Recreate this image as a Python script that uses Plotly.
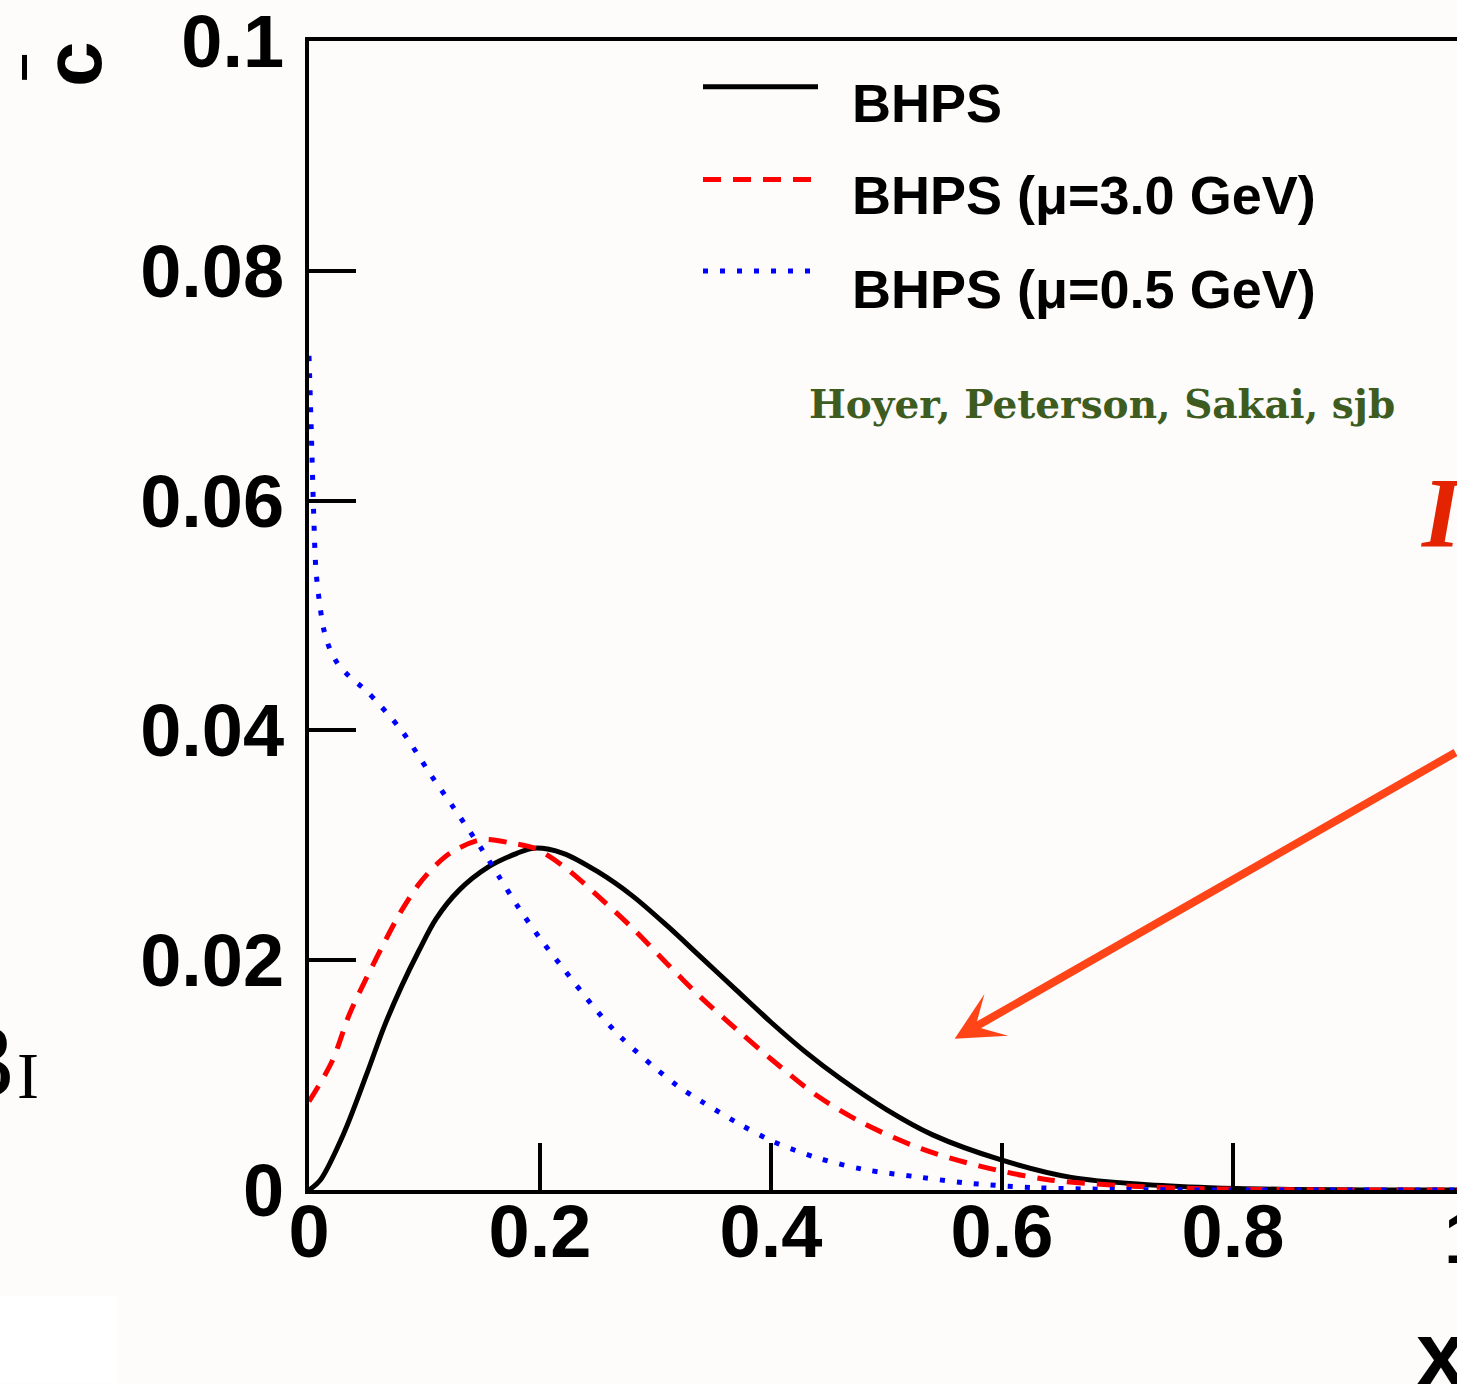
import plotly.graph_objects as go

# ---------------- data ----------------
x_bhps = [0, 0.01, 0.03, 0.05, 0.065, 0.08, 0.095, 0.11, 0.13, 0.155, 0.18, 0.195,
          0.22, 0.25, 0.28, 0.31, 0.34, 0.37, 0.40, 0.43, 0.46, 0.50, 0.54, 0.60,
          0.66, 0.72, 0.78, 0.85, 0.92, 1.0]
y_bhps = [0, 0.0009, 0.0049, 0.0101, 0.0142, 0.0177, 0.0208, 0.0236, 0.0261, 0.0281,
          0.0293, 0.02975, 0.0293, 0.0277, 0.0256, 0.0230, 0.0202, 0.0174, 0.0146,
          0.0120, 0.0097, 0.0070, 0.0048, 0.0026, 0.0011, 0.0005, 0.0002, 0.00005, 0.0, 0.0]

x_mu30 = [0, 0.02, 0.035, 0.05, 0.065, 0.08, 0.095, 0.11, 0.125, 0.15, 0.175, 0.195,
          0.22, 0.25, 0.28, 0.31, 0.34, 0.37, 0.40, 0.44, 0.48, 0.53, 0.58, 0.64,
          0.70, 0.76, 0.82, 0.90, 1.0]
y_mu30 = [0.0077, 0.0112, 0.0153, 0.0185, 0.0215, 0.0243, 0.0266, 0.0283, 0.0295,
          0.0305, 0.0302, 0.02975, 0.0282, 0.0256, 0.0228, 0.0197, 0.0167, 0.0140,
          0.0114, 0.0082, 0.0058, 0.0036, 0.0021, 0.0009, 0.0004, 0.00015, 0.00005, 0, 0]

x_mu05 = [0, 0.002, 0.004, 0.006, 0.009, 0.013, 0.018, 0.025, 0.035, 0.05, 0.08, 0.105,
          0.125, 0.15, 0.165, 0.18, 0.20, 0.22, 0.25, 0.27, 0.30, 0.32, 0.34, 0.37,
          0.40, 0.44, 0.48, 0.53, 0.57, 0.63, 0.70, 0.80, 1.0]
y_mu05 = [0.0726, 0.066, 0.059, 0.054, 0.0512, 0.0487, 0.0471, 0.0458, 0.0447, 0.0434,
          0.0400, 0.0362, 0.0333, 0.0296, 0.0272, 0.0248, 0.0219, 0.0193, 0.0155,
          0.0133, 0.0106, 0.0090, 0.0077, 0.0059, 0.0043, 0.0028, 0.0018, 0.0011,
          0.0006, 0.0002, 0.00005, 0, 0]

series_names = ["BHPS", "BHPS (\u03bc=3.0 GeV)", "BHPS (\u03bc=0.5 GeV)"]
x_tickvals = [0, 0.2, 0.4, 0.6, 0.8]
x_ticktext = ["0", "0.2", "0.4", "0.6", "0.8"]
y_tickvals = [0, 0.02, 0.04, 0.06, 0.08, 0.1]
y_ticktext = ["0", "0.02", "0.04", "0.06", "0.08", "0.1"]

# ---------------- figure ----------------
W, H = 1457, 1384
L, R, T, B = 309, 0, 36, 194
BG = "#fdfcfa"

fig = go.Figure()
styles = [
    dict(color="black", width=5, dash="solid"),
    dict(color="#ff0000", width=5, dash="18px,12px"),
    dict(color="#0000ff", width=5, dash="5px,12px"),
]
for xs, ys, name, st in zip([x_bhps, x_mu30, x_mu05], [y_bhps, y_mu30, y_mu05],
                            series_names, styles):
    fig.add_trace(go.Scatter(x=xs, y=ys, mode="lines", name=name,
                             line=dict(shape="spline", smoothing=0.9, **st),
                             showlegend=False))

tickfont = dict(family="Liberation Sans, Arial, sans-serif", size=74, color="black",
                weight="bold")

fig.update_xaxes(range=[0, (W - L - R) / 1155], tickvals=x_tickvals, ticktext=x_ticktext,
                 ticks="inside", ticklen=47, tickwidth=4, tickcolor="black",
                 showline=True, linewidth=4, linecolor="black", mirror=True,
                 showgrid=False, zeroline=False, tickfont=tickfont,
                 ticklabelstandoff=-26, ticklabeloverflow="allow")
fig.update_yaxes(range=[0, 0.1000001], tickvals=y_tickvals, ticktext=y_ticktext,
                 ticks="inside", ticklen=47, tickwidth=4, tickcolor="black",
                 showline=True, linewidth=4, linecolor="black", mirror=False,
                 showgrid=False, zeroline=False, tickfont=tickfont,
                 ticklabelstandoff=6, ticklabeloverflow="allow")

pw, ph = W - L - R, H - T - B


def px(x):
    return (x - L) / pw


def py(y):
    return (H - B - y) / ph


shapes = []
# legend samples
shapes.append(dict(type="line", xref="paper", yref="paper", x0=px(703), x1=px(818),
                   y0=py(82), y1=py(82), line=dict(color="black", width=5)))
shapes.append(dict(type="line", xref="paper", yref="paper", x0=px(703), x1=px(818),
                   y0=py(175), y1=py(175),
                   line=dict(color="#ff0000", width=5, dash="18px,12px")))
shapes.append(dict(type="line", xref="paper", yref="paper", x0=px(703), x1=px(814),
                   y0=py(267), y1=py(267),
                   line=dict(color="#0000ff", width=5, dash="5px,12px")))
# white patch bottom-left and small bar top-left
shapes.append(dict(type="rect", xref="paper", yref="paper", x0=px(0), x1=px(118),
                   y0=py(1384), y1=py(1297), fillcolor="white", line=dict(width=0),
                   layer="below"))
shapes.append(dict(type="rect", xref="paper", yref="paper", x0=px(22), x1=px(27),
                   y0=py(75), y1=py(50), fillcolor="black", line=dict(width=0)))

ann = []
leg_font = dict(family="Liberation Sans, Arial, sans-serif", size=54, color="black",
                weight="bold")
for name, yc in zip(series_names, [98, 191, 285]):
    ann.append(dict(text=name, xref="paper", yref="paper", x=px(850), y=py(yc),
                    xanchor="left", yanchor="middle", showarrow=False, font=leg_font))
ann.append(dict(text="Hoyer, Peterson, Sakai, sjb", xref="paper", yref="paper",
                x=px(807), y=py(401), xanchor="left", yanchor="middle", showarrow=False,
                font=dict(family="DejaVu Serif, serif", size=39, color="#3e5c1f",
                          weight="bold")))
# arrow
ann.append(dict(text="", x=0.559, y=0.01317, xref="x", yref="y", showarrow=True,
                ax=525, ay=-287, arrowhead=3, arrowsize=1.0, arrowwidth=8,
                arrowcolor="#ff4418", standoff=0))
# cut-off slide texts
ann.append(dict(text="I", xref="paper", yref="paper", x=px(1419), y=py(510),
                xanchor="left", yanchor="middle", showarrow=False,
                font=dict(family="Liberation Serif, serif", size=100, color="#e42400",
                          weight="bold", style="italic")))
ann.append(dict(text="x", xref="paper", yref="paper", x=px(1414), y=py(1355),
                xanchor="left", yanchor="middle", showarrow=False,
                font=dict(family="Liberation Sans, Arial, sans-serif", size=90,
                          color="black", weight="bold")))
ann.append(dict(text="1", xref="paper", yref="paper", x=px(1464), y=py(1238),
                xanchor="center", yanchor="middle", showarrow=False, font=tickfont))
ann.append(dict(text="c", xref="paper", yref="paper", x=px(73), y=py(59),
                xanchor="center", yanchor="middle", showarrow=False, textangle=-90,
                font=dict(family="Liberation Sans, Arial, sans-serif", size=82,
                          color="black", weight="bold")))
ann.append(dict(text="3", xref="paper", yref="paper", x=px(16), y=py(1060),
                xanchor="right", yanchor="middle", showarrow=False,
                font=dict(family="Liberation Serif, serif", size=104, color="black")))
ann.append(dict(text="I", xref="paper", yref="paper", x=px(15), y=py(1075),
                xanchor="left", yanchor="middle", showarrow=False,
                font=dict(family="Liberation Serif, serif", size=66, color="black")))

fig.update_layout(width=W, height=H, margin=dict(l=L, r=R, t=T, b=B, pad=0),
                  paper_bgcolor=BG, plot_bgcolor=BG, shapes=shapes, annotations=ann,
                  showlegend=False)

fig.write_html("out.html", config={"displayModeBar": False},
               post_script="document.body.style.margin='0px';"
                           "document.body.style.overflow='hidden';")
